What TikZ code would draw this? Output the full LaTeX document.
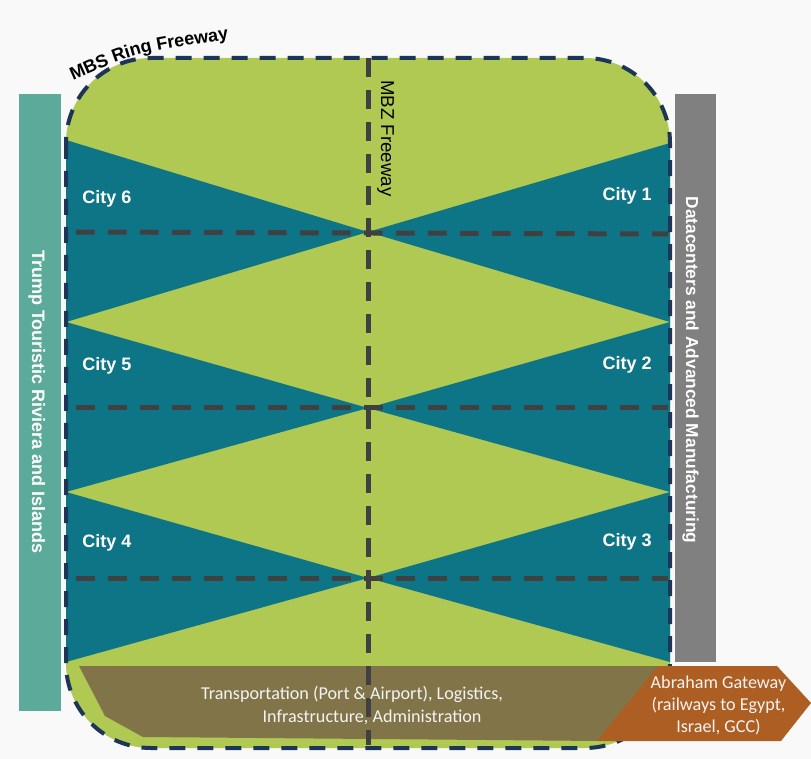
\documentclass[tikz,border=0pt]{standalone}
\usepackage{fontspec}
\usetikzlibrary{decorations.text}
\setmainfont{Liberation Sans}
\newfontfamily\calib{Carlito}
\definecolor{bgc}{HTML}{F9F9F9}
\definecolor{greenc}{HTML}{B0C953}
\definecolor{tealc}{HTML}{0E7587}
\definecolor{barteal}{HTML}{5BAA9A}
\definecolor{grayc}{HTML}{808080}
\definecolor{brownc}{HTML}{807448}
\definecolor{orangec}{HTML}{AD5E22}
\definecolor{navyc}{HTML}{1D3557}
\definecolor{roadc}{HTML}{404040}
\definecolor{lighttext}{HTML}{F4F4F4}
\begin{document}
\begin{tikzpicture}[x=0.75pt,y=-0.75pt,
  boldlbl/.style={text=white,font=\fontsize{13.5}{16}\selectfont\bfseries,inner sep=0},
  ringdash/.style={draw=navyc,line width=3pt,dash pattern=on 12pt off 9pt},
  roaddash/.style={draw=roadc,line width=3.75pt,dash pattern=on 14pt off 10pt},
  calibtxt/.style={text=lighttext,font=\calib\fontsize{13.6}{17}\selectfont,inner sep=0,anchor=base}]
\fill[bgc] (0,0) rectangle (811,759);
\useasboundingbox (0,0) rectangle (811,759);
% side bars
\fill[barteal] (19,94) rectangle (61,711);
\fill[grayc] (675,94) rectangle (716,662);
% main area
\fill[greenc,rounded corners=63.75pt] (66,58) rectangle (670,748);
% teal triangles
\fill[tealc] (66,140) -- (368,232) -- (66,322) -- cycle;
\fill[tealc] (66,322) -- (368,408) -- (66,492) -- cycle;
\fill[tealc] (66,492) -- (368,578) -- (66,662) -- cycle;
\fill[tealc] (670,143) -- (368,232) -- (670,322) -- cycle;
\fill[tealc] (670,322) -- (368,408) -- (670,492) -- cycle;
\fill[tealc] (670,492) -- (368,578) -- (670,662) -- cycle;
% bottom zone
\fill[brownc] (79,666) -- (660,666) -- (600,741) -- (143,737) -- (105,716) -- cycle;
% ring freeway
\draw[ringdash,rounded corners=63.75pt] (66,58) rectangle (670,748);
% inner roads
\draw[roaddash] (368,58) -- (368,745);
\draw[roaddash] (76,232) -- (668,234);
\draw[roaddash] (76,408) -- (668,408);
\draw[roaddash] (76,578) -- (668,578);
% gateway
\fill[orangec] (597,741) -- (658,666) -- (777,666) -- (811,703) -- (781,741) -- cycle;
% labels
\node[boldlbl,anchor=base west] (c6) at (82,204) {City 6};
\node[boldlbl,anchor=base west] (c5) at (82,371) {City 5};
\node[boldlbl,anchor=base west] (c4) at (82,547) {City 4};
\node[boldlbl,anchor=base east] (c1) at (652,201) {City 1};
\node[boldlbl,anchor=base east] (c2) at (652,370) {City 2};
\node[boldlbl,anchor=base east] (c3) at (652,546) {City 3};
\node[boldlbl,rotate=-90,anchor=base] (riv) at (32,402) {Trump Touristic Riviera and Islands};
\node[boldlbl,rotate=-90,anchor=base,font=\fontsize{13}{16}\selectfont\bfseries] (dc) at (686,370) {Datacenters and Advanced Manufacturing};
\node[inner sep=0,rotate=-90,anchor=base west,font=\fontsize{14}{16}\selectfont] (mbz) at (381,80) {MBZ Freeway};
\coordinate (mbsA) at (70,82);
\coordinate (mbsB) at (232,39);
\path[decorate,decoration={text along path,text align={align=center},
  text={|\fontsize{13.5}{16}\selectfont\bfseries|MBS Ring Freeway}}]
  (mbsA) .. controls (136.5,52.4) .. (mbsB);
\node[calibtxt] (tr1) at (352,699) {Transportation (Port \& Airport), Logistics,};
\node[calibtxt] (tr2) at (372,722) {Infrastructure, Administration};
\node[calibtxt] (ag1) at (718.5,688) {Abraham Gateway};
\node[calibtxt] (ag2) at (718.5,710) {(railways to Egypt,};
\node[calibtxt] (ag3) at (718.5,732) {Israel, GCC)};
\end{tikzpicture}
\end{document}
